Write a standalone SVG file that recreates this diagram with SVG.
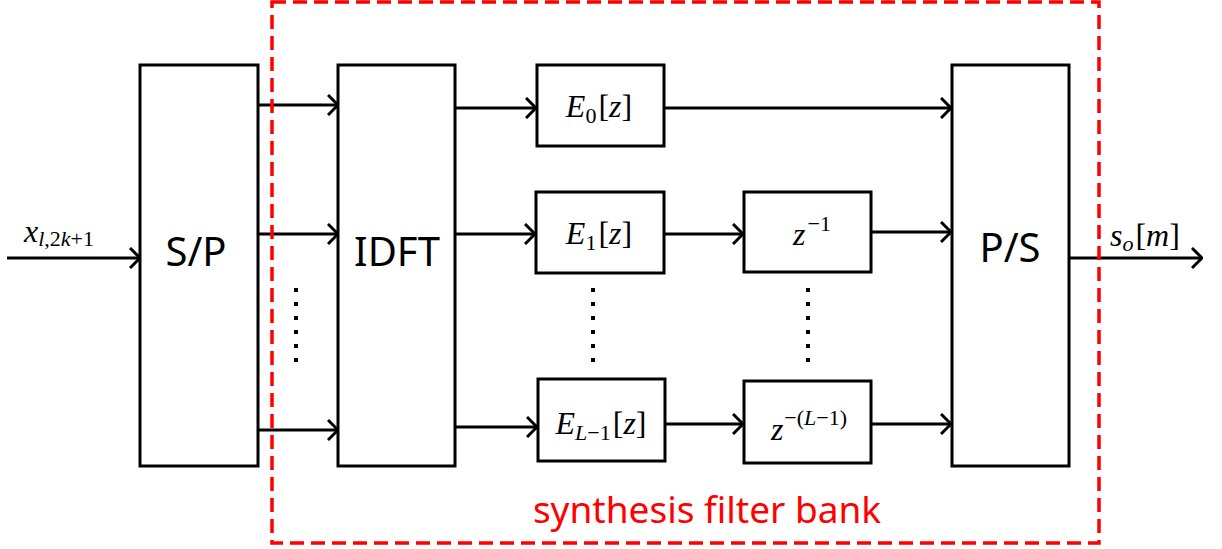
<svg xmlns="http://www.w3.org/2000/svg" width="1222" height="549" viewBox="0 0 1222 549">
<style>
.box{fill:#fff;stroke:#000;stroke-width:3}
.ln{fill:none;stroke:#000;stroke-width:3}
.big{font-family:"Noto Sans","Open Sans",sans-serif;font-size:40px;fill:#000;text-anchor:middle}
.m{font-family:"Liberation Serif",serif;font-size:32px;font-style:italic;fill:#000}
.r{font-family:"Liberation Serif",serif;font-size:32px;fill:#000}
.sub{font-size:22px}
</style>
<defs>
<marker id="ah" viewBox="0 0 12 22" refX="11" refY="11" markerWidth="12" markerHeight="22" markerUnits="userSpaceOnUse" orient="auto">
<path d="M1,1 L11,11 L1,21" fill="none" stroke="#000" stroke-width="3"/>
</marker>
<g id="dots">
<rect x="-2" y="-2" width="4" height="4"/>
<rect x="-2" y="12" width="4" height="4"/>
<rect x="-2" y="26" width="4" height="4"/>
<rect x="-2" y="40" width="4" height="4"/>
<rect x="-2" y="54" width="4" height="4"/>
<rect x="-2" y="68" width="4" height="4"/>
</g>
</defs>
<rect width="1222" height="549" fill="#fff"/>
<g id="connectors">
<line class="ln" x1="7" y1="258" x2="140" y2="258" marker-end="url(#ah)"/>
<line class="ln" x1="258" y1="105" x2="338" y2="105" marker-end="url(#ah)"/>
<line class="ln" x1="258" y1="234" x2="338" y2="234" marker-end="url(#ah)"/>
<line class="ln" x1="258" y1="430" x2="338" y2="430" marker-end="url(#ah)"/>
<line class="ln" x1="455" y1="108" x2="536" y2="108" marker-end="url(#ah)"/>
<line class="ln" x1="455" y1="234" x2="535" y2="234" marker-end="url(#ah)"/>
<line class="ln" x1="455" y1="427" x2="537" y2="427" marker-end="url(#ah)"/>
<line class="ln" x1="664" y1="108" x2="951" y2="108" marker-end="url(#ah)"/>
<line class="ln" x1="664" y1="234" x2="743" y2="234" marker-end="url(#ah)"/>
<line class="ln" x1="871" y1="232" x2="951" y2="232" marker-end="url(#ah)"/>
<line class="ln" x1="665" y1="424" x2="743" y2="424" marker-end="url(#ah)"/>
<line class="ln" x1="871" y1="424" x2="951" y2="424" marker-end="url(#ah)"/>
<line class="ln" x1="1069" y1="258" x2="1202" y2="258" marker-end="url(#ah)"/>
</g>
<g id="sp"><rect class="box" x="140" y="65" width="118" height="401"/><text class="big" x="196" y="266">S/P</text></g>
<g id="idft"><rect class="box" x="338" y="65" width="117" height="401"/><text class="big" x="397" y="266">IDFT</text></g>
<g id="ps"><rect class="box" x="952" y="65" width="117" height="401"/><text class="big" x="1010" y="262">P/S</text></g>
<g id="e0"><rect class="box" x="537" y="65" width="127" height="81"/>
<text x="599" y="117" text-anchor="middle"><tspan class="m">E</tspan><tspan class="r sub" dy="6">0</tspan><tspan class="r" dy="-6" dx="2">[</tspan><tspan class="m">z</tspan><tspan class="r">]</tspan></text></g>
<g id="e1"><rect class="box" x="536" y="192" width="128" height="81"/>
<text x="599" y="244" text-anchor="middle"><tspan class="m">E</tspan><tspan class="r sub" dy="6">1</tspan><tspan class="r" dy="-6" dx="2">[</tspan><tspan class="m">z</tspan><tspan class="r">]</tspan></text></g>
<g id="el"><rect class="box" x="538" y="379" width="127" height="82"/>
<text x="601" y="434" text-anchor="middle"><tspan class="m">E</tspan><tspan class="m sub" dy="6">L</tspan><tspan class="r sub">−1</tspan><tspan class="r" dy="-6" dx="2">[</tspan><tspan class="m">z</tspan><tspan class="r">]</tspan></text></g>
<g id="z1"><rect class="box" x="744" y="192" width="127" height="80"/>
<text x="812" y="245" text-anchor="middle"><tspan class="m">z</tspan><tspan class="r sub" dy="-14" dx="2">−1</tspan></text></g>
<g id="zl"><rect class="box" x="744" y="381" width="127" height="82"/>
<text x="809" y="440" text-anchor="middle"><tspan class="m">z</tspan><tspan class="r sub" dy="-15" dx="1">−(</tspan><tspan class="m sub">L</tspan><tspan class="r sub">−1)</tspan></text></g>
<g id="labels">
<text x="24" y="242"><tspan class="m">x</tspan><tspan class="m sub" dy="4">l</tspan><tspan class="r sub">,2</tspan><tspan class="m sub">k</tspan><tspan class="r sub">+1</tspan></text>
<text x="1110" y="246"><tspan class="m">s</tspan><tspan class="m sub" dy="5">o</tspan><tspan class="r" dy="-5" dx="2">[</tspan><tspan class="m">m</tspan><tspan class="r">]</tspan></text>
</g>
<g id="dotcols">
<use href="#dots" x="296" y="290"/>
<use href="#dots" x="593" y="290"/>
<use href="#dots" x="808" y="290"/>
</g>
<g id="bank">
<rect x="272" y="2" width="827" height="541" fill="none" stroke="#f00" stroke-width="3.5" stroke-dasharray="14,7"/>
<text x="707" y="523" text-anchor="middle" font-family="Noto Sans,Open Sans,sans-serif" font-size="37" fill="#f00">synthesis filter bank</text>
</g>
</svg>
